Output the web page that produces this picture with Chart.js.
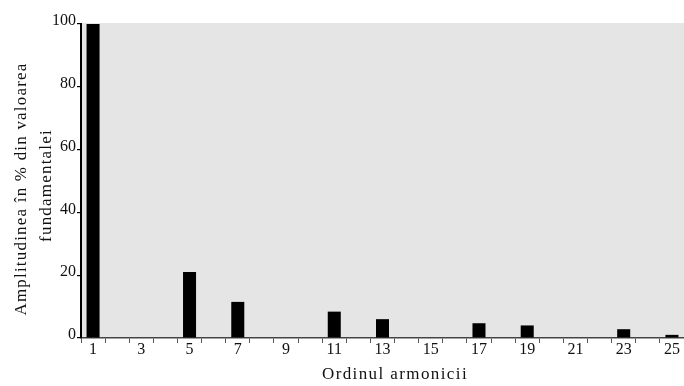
<!DOCTYPE html>
<html>
<head>
<meta charset="utf-8">
<script src="https://cdn.jsdelivr.net/npm/chart.js@4.4.1/dist/chart.umd.min.js"></script>
<style>
  html, body { margin: 0; padding: 0; background: #fff; }
  #wrap { width: 684px; height: 386px; position: relative; }
</style>
</head>
<body>
<div id="wrap"><canvas id="c"></canvas></div>
<script>
// Harmonic order and amplitude (% of the fundamental)
const harmonics = ['1','2','3','4','5','6','7','8','9','10','11','12','13',
                   '14','15','16','17','18','19','20','21','22','23','24','25'];
const amplitudes = [100, 0, 0, 0, 21, 0, 11.5, 0, 0, 0, 8.4, 0, 6,
                    0, 0, 0, 4.7, 0, 4, 0, 0, 0, 2.8, 0, 1];
const yTicks = [0, 20, 40, 60, 80, 100];
const yTitle = ['Amplitudinea în % din valoarea', 'fundamentalei'];
const xTitle = 'Ordinul armonicii';

const SERIF = '"Liberation Serif", "Times New Roman", serif';
const INK = '#111';

// grey plot background
const plotBackground = {
  id: 'plotBackground',
  beforeDraw(chart) {
    const { ctx, chartArea: a } = chart;
    ctx.save();
    ctx.fillStyle = '#e6e5e6';
    ctx.fillRect(a.left + 1, a.top - 1, a.right - a.left - 1, a.bottom - a.top + 1);
    ctx.restore();
  }
};

// axis titles (letter-spaced serif)
const axisTitles = {
  id: 'axisTitles',
  afterDraw(chart) {
    const { ctx } = chart;
    ctx.save();
    ctx.fillStyle = INK;
    ctx.font = '17px ' + SERIF;
    ctx.textAlign = 'center';
    ctx.textBaseline = 'alphabetic';
    ctx.letterSpacing = '1.4px';
    ctx.fillText(xTitle, 395, 379);
    ctx.letterSpacing = '1.2px';
    ctx.translate(0, 187);
    ctx.rotate(-Math.PI / 2);
    ctx.fillText(yTitle[0], -2, 26);
    ctx.fillText(yTitle[1], 1.5, 51);
    ctx.restore();
  }
};

new Chart(document.getElementById('c'), {
  type: 'bar',
  data: {
    labels: harmonics,
    datasets: [{
      data: amplitudes,
      backgroundColor: '#000',
      borderWidth: 0,
      barPercentage: 0.54,
      categoryPercentage: 1.0
    }]
  },
  options: {
    responsive: true,
    maintainAspectRatio: false,
    animation: false,
    devicePixelRatio: 1,
    layout: { padding: { top: 24, right: 0, bottom: 0, left: 0 } },
    plugins: {
      legend: { display: false },
      tooltip: { enabled: false },
      title: { display: false }
    },
    scales: {
      x: {
        type: 'category',
        offset: true,
        grid: {
          offset: true,
          drawOnChartArea: false,
          drawTicks: true,
          tickLength: 5,
          color: '#555',
          lineWidth: 1
        },
        border: { display: true, color: '#444', width: 1.5 },
        ticks: {
          autoSkip: false,
          maxRotation: 0,
          minRotation: 0,
          padding: -3,
          color: INK,
          font: { family: SERIF, size: 16 },
          callback(value, index) {
            const n = Number(harmonics[index]);
            return n % 2 === 1 ? harmonics[index] : '';
          }
        },
        afterFit(scale) { scale.height = 48; }
      },
      y: {
        type: 'linear',
        min: 0,
        max: 100,
        afterBuildTicks(scale) { scale.ticks = yTicks.map(v => ({ value: v })); },
        grid: {
          drawOnChartArea: false,
          drawTicks: true,
          tickLength: 4,
          color: '#000',
          lineWidth: 1.2
        },
        border: { display: true, color: '#000', width: 2 },
        ticks: {
          padding: 1,
          labelOffset: -3,
          color: INK,
          font: { family: SERIF, size: 16 }
        },
        afterFit(scale) { scale.width = 81; }
      }
    }
  },
  plugins: [plotBackground, axisTitles]
});
</script>
</body>
</html>
